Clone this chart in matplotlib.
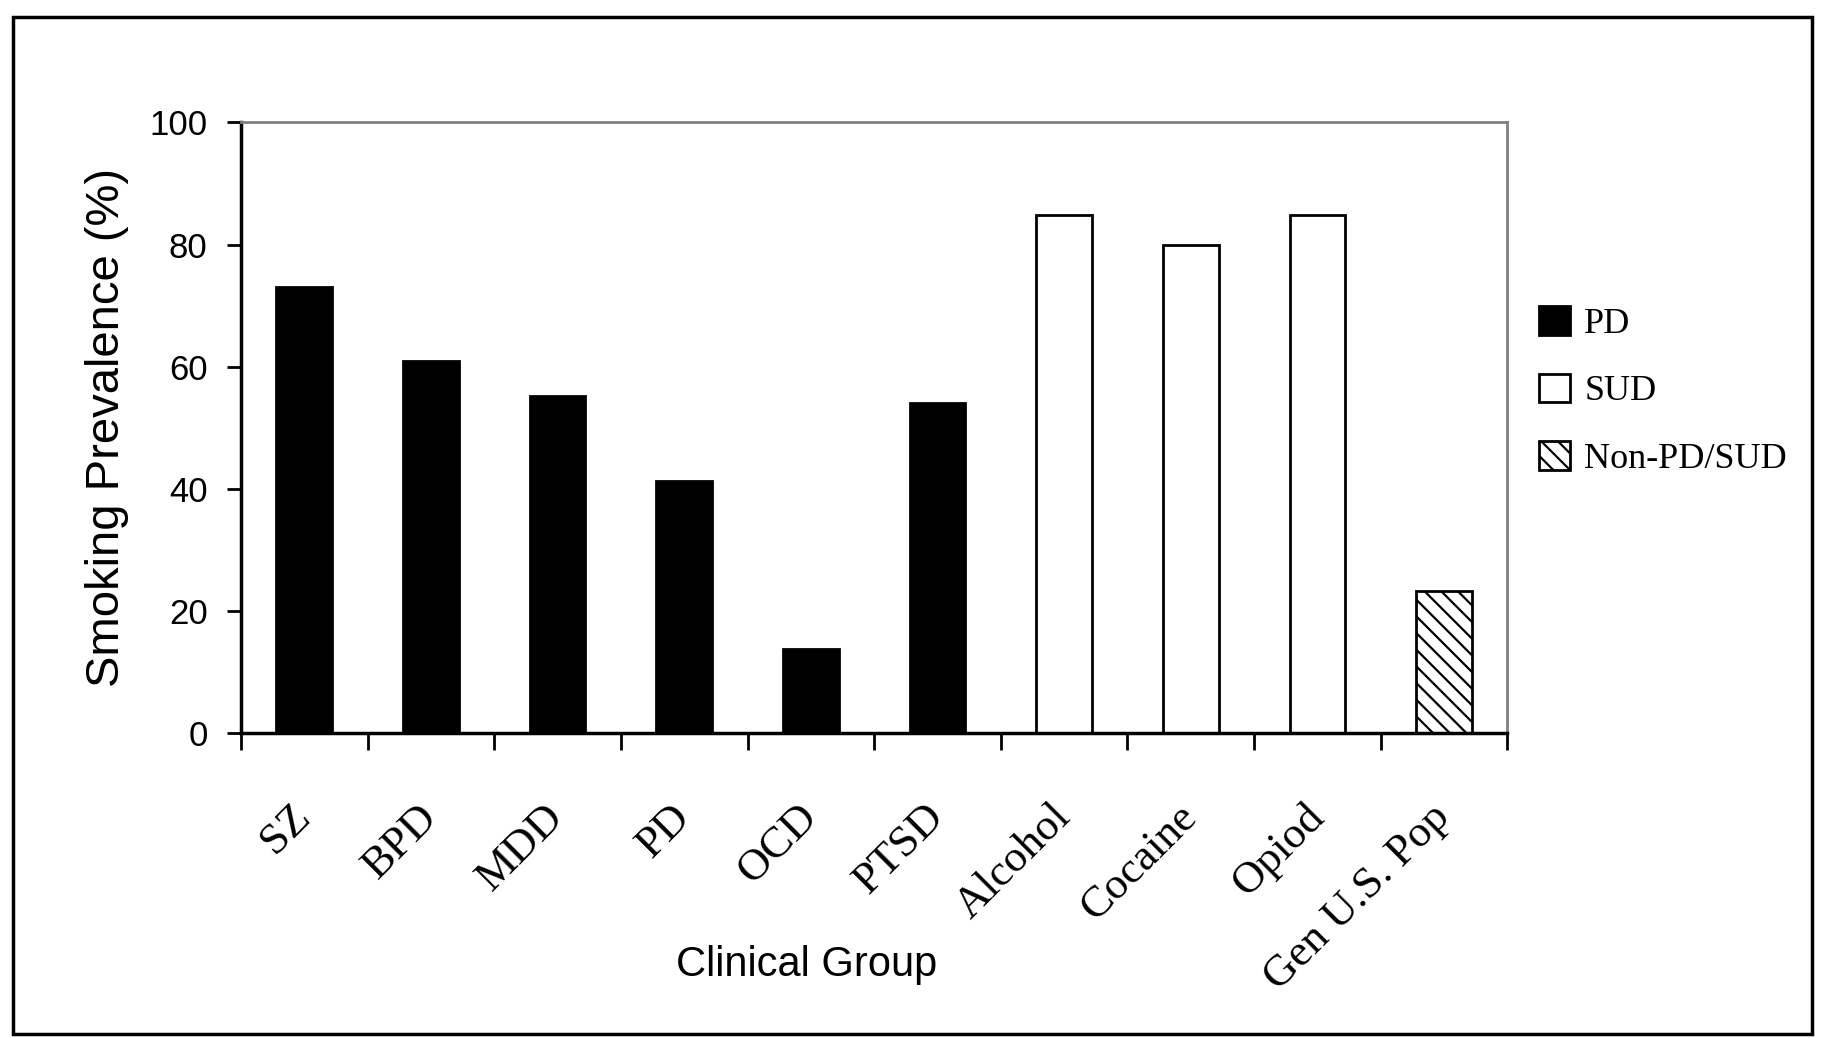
import matplotlib
matplotlib.use('Agg')
import matplotlib.pyplot as plt
from matplotlib.patches import Patch, Rectangle
import numpy as np

groups = ['SZ', 'BPD', 'MDD', 'PD', 'OCD', 'PTSD', 'Alcohol', 'Cocaine', 'Opiod', 'Gen U.S. Pop']
prevalence = [73, 61, 55.2, 41.3, 13.7, 54, 84.8, 80, 84.8, 23.2]
kind = ['PD', 'PD', 'PD', 'PD', 'PD', 'PD', 'SUD', 'SUD', 'SUD', 'Non-PD/SUD']

styles = {
    'PD': dict(facecolor='black', edgecolor='black', hatch=None),
    'SUD': dict(facecolor='white', edgecolor='black', hatch=None),
    'Non-PD/SUD': dict(facecolor='white', edgecolor='black', hatch='\\\\'),
}

plt.rcParams['hatch.linewidth'] = 1.6
serif = 'Liberation Serif'
sans = 'Liberation Sans'

fig = plt.figure(figsize=(18.25, 10.38), dpi=100)
ax = fig.add_axes([0.132, 0.294, 0.694, 0.588])

x = np.arange(len(groups))
for xi, val, k in zip(x, prevalence, kind):
    s = styles[k]
    ax.bar(xi, val, width=0.44, facecolor=s['facecolor'], edgecolor=s['edgecolor'],
           hatch=s['hatch'], linewidth=2)

ax.set_xlim(-0.5, len(groups) - 0.5)
ax.set_ylim(0, 100)
ax.set_yticks([0, 20, 40, 60, 80, 100])
ax.set_yticklabels(['0', '20', '40', '60', '80', '100'], fontfamily=sans, fontsize=25)
ax.tick_params(axis='y', direction='out', length=10, width=2, pad=14)

ax.set_xticks(x)
ax.set_xticks(np.arange(len(groups) + 1) - 0.5, minor=True)
ax.tick_params(axis='x', which='major', length=0, pad=56)
ax.tick_params(axis='x', which='minor', direction='out', length=12, width=2)
ax.set_xticklabels(groups, rotation=45, ha='right', va='center', rotation_mode='anchor',
                   fontfamily=serif, fontsize=32)

for side in ['top', 'right']:
    ax.spines[side].set_color('#808080')
    ax.spines[side].set_linewidth(2)
for side in ['left', 'bottom']:
    ax.spines[side].set_color('black')
    ax.spines[side].set_linewidth(2.5)

ax.set_ylabel('Smoking Prevalence (%)', fontfamily=sans, fontsize=34)
ax.yaxis.set_label_coords(-0.088, 0.5)
ax.set_xlabel('Clinical Group', fontfamily=sans, fontsize=30)
ax.xaxis.set_label_coords(0.447, -0.347)

handles = [Patch(facecolor=styles[k]['facecolor'], edgecolor='black', hatch=styles[k]['hatch'],
                 linewidth=2, label=k) for k in ['PD', 'SUD', 'Non-PD/SUD']]
ax.legend(handles=handles, loc='center left', bbox_to_anchor=(1.025, 0.56), frameon=False,
          prop={'family': serif, 'size': 26}, handlelength=0.85, handleheight=0.85,
          labelspacing=0.9, handletextpad=0.4, borderpad=0, borderaxespad=0)

fig.patches.append(Rectangle((0.007, 0.004), 0.986, 0.98, transform=fig.transFigure,
                             fill=False, edgecolor='black', linewidth=2.5))

fig.savefig('out.png', dpi=100)
